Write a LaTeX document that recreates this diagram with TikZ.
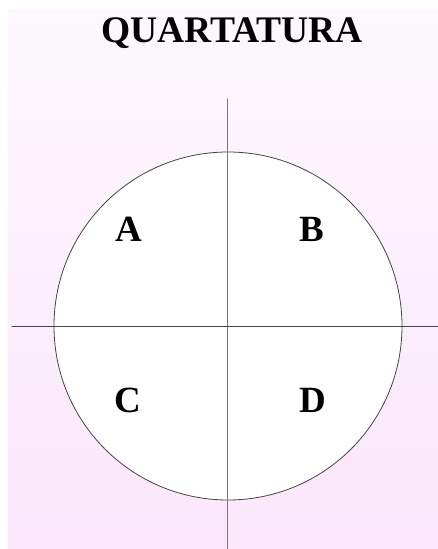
\documentclass[tikz,border=0pt]{standalone}
\usepackage{fontspec}
\setmainfont{Liberation Serif}
\usetikzlibrary{calc}
\usepackage{tkz-euclide}
\definecolor{PanelTop}{rgb}{0.988,0.973,0.992}
\definecolor{PanelBot}{rgb}{0.984,0.902,0.984}
\definecolor{VertClr}{rgb}{0.47,0.47,0.47}
\definecolor{HorClr}{rgb}{0.27,0.27,0.27}

\begin{document}
\begin{tikzpicture}[x=1pt,y=1pt]
\tkzSetUpLine[line width=1pt,color=black]

\tkzDefPoints{0/0/O}

% page and panel
\useasboundingbox (-228,326) rectangle (210,-223);
\fill[white] (-228,326) rectangle (210,-223);
\shade[top color=PanelTop,bottom color=PanelBot] (-220,316) rectangle (210,-223);

\tkzDefPoint(0,227){n}
\tkzDefPoint(0,-223){s}
\tkzDefPoint(-216,0){w}
\tkzDefPoint(210,0){e}
\tkzDefPoint(174,0){r}

\tkzFillCircle[white](O,r)
\tkzDrawCircle[line width=0.8pt,color=HorClr](O,r)

\tkzDrawSegments[line width=1pt,color=VertClr](n,s)
\tkzDrawSegments[line width=1pt,color=HorClr](w,e)

\node[anchor=base,font=\bfseries\fontsize{37.5}{40}\selectfont] (title) at (4,283) {QUARTATURA};
\node[anchor=base,font=\bfseries\fontsize{37}{40}\selectfont] (A) at (-99.5,84) {A};
\node[anchor=base,font=\bfseries\fontsize{37}{40}\selectfont] (B) at (83.5,84) {B};
\node[anchor=base,font=\bfseries\fontsize{37}{40}\selectfont] (C) at (-100.5,-86) {C};
\node[anchor=base,font=\bfseries\fontsize{37}{40}\selectfont] (D) at (84.5,-86) {D};

\end{tikzpicture}
\end{document}
